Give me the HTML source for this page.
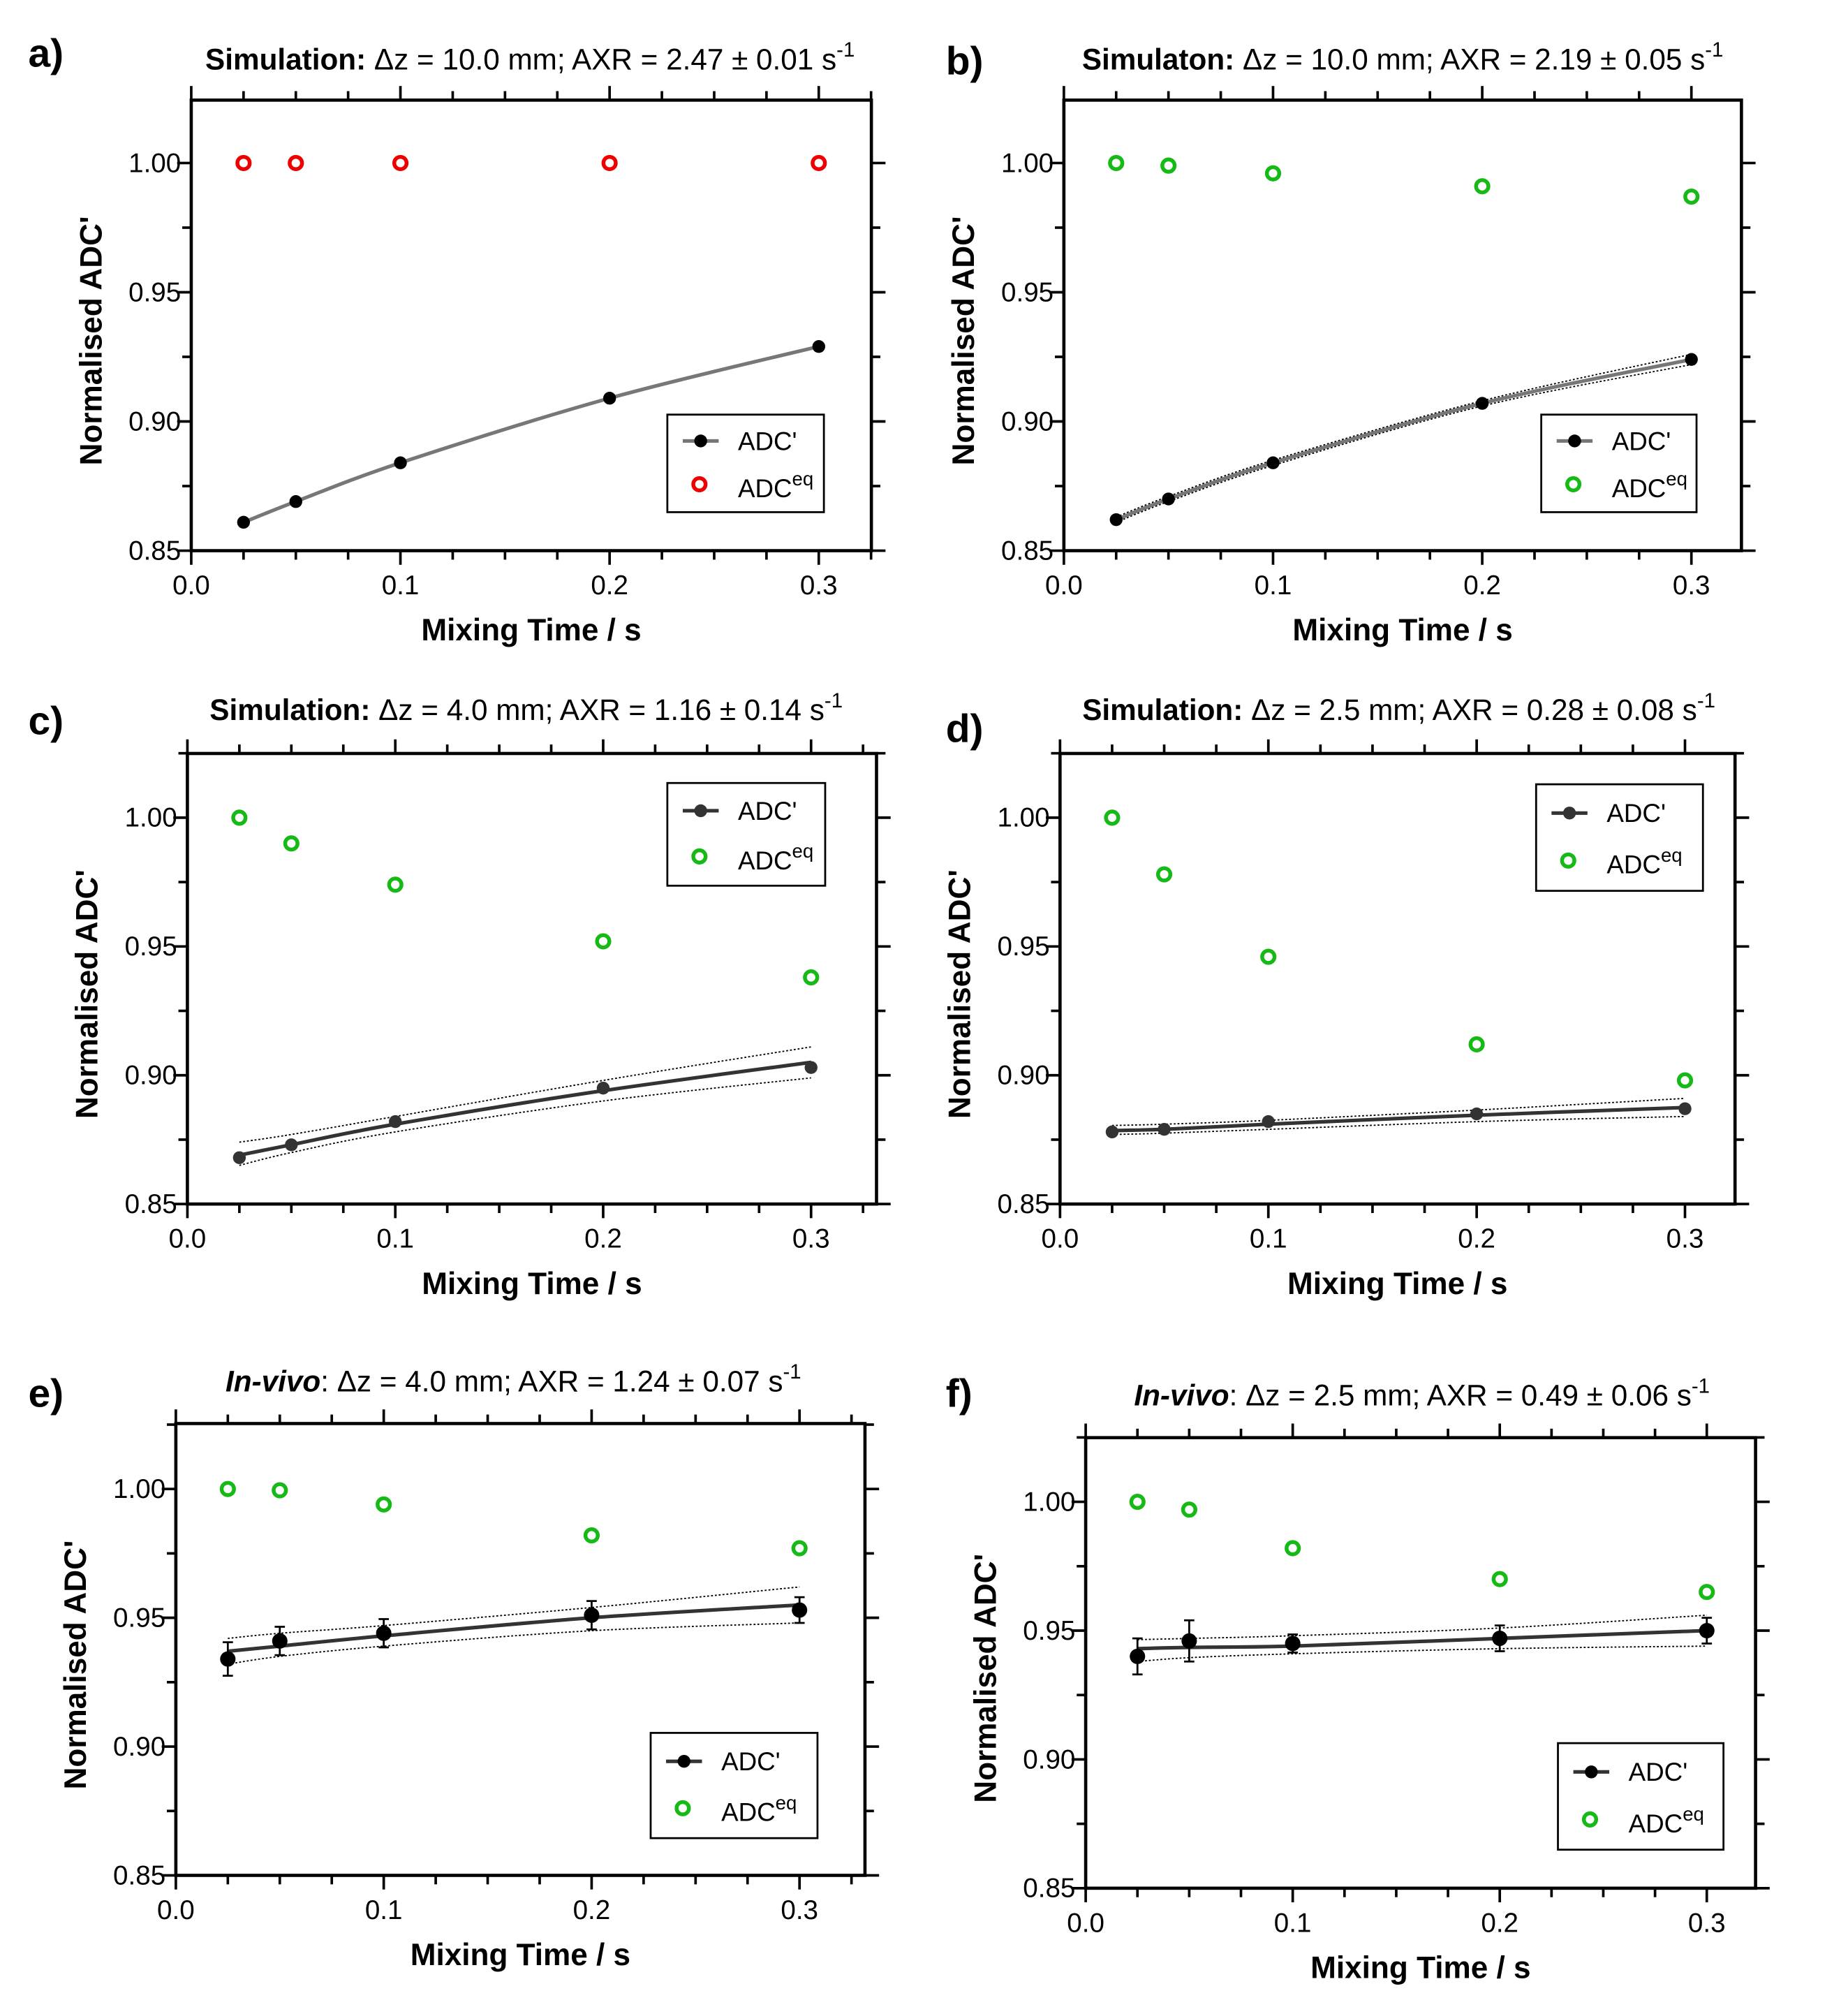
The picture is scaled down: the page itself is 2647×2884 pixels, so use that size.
<!DOCTYPE html>
<html><head><meta charset="utf-8">
<style>
html,body{margin:0;padding:0;background:#fff;}
svg{display:block;}
text{font-family:"Liberation Sans",Arial,sans-serif;}
</style></head>
<body>
<svg id="fig" xmlns="http://www.w3.org/2000/svg" width="2647" height="2884" viewBox="0 0 1440 1569">
<rect width="1440" height="1569" fill="#fff"/>
</svg>
<script>
const mixTimes = [0.025, 0.05, 0.1, 0.2, 0.3];
const xTickLabels = ["0.0", "0.1", "0.2", "0.3"];
const yTickLabels = ["0.85", "0.90", "0.95", "1.00"];

const adcA = [0.861, 0.869, 0.884, 0.909, 0.929];
const eqA = [1.0, 1.0, 1.0, 1.0, 1.0];
const fitA = [0.861, 0.869, 0.884, 0.909, 0.929];

const adcB = [0.862, 0.870, 0.884, 0.907, 0.924];
const eqB = [1.0, 0.999, 0.996, 0.991, 0.987];
const fitB = [0.862, 0.870, 0.884, 0.907, 0.924];
const fitBLo = [0.861, 0.869, 0.883, 0.906, 0.922];
const fitBHi = [0.863, 0.871, 0.885, 0.908, 0.926];

const adcC = [0.868, 0.873, 0.882, 0.895, 0.903];
const eqC = [1.0, 0.990, 0.974, 0.952, 0.938];
const fitC = [0.869, 0.873, 0.881, 0.894, 0.905];
const fitCLo = [0.865, 0.870, 0.878, 0.890, 0.899];
const fitCHi = [0.874, 0.877, 0.884, 0.898, 0.911];

const adcD = [0.878, 0.879, 0.882, 0.885, 0.887];
const eqD = [1.0, 0.978, 0.946, 0.912, 0.898];
const fitD = [0.8785, 0.879, 0.881, 0.8845, 0.8875];
const fitDLo = [0.877, 0.8775, 0.879, 0.882, 0.884];
const fitDHi = [0.8805, 0.881, 0.8825, 0.8865, 0.891];

const adcE = [0.934, 0.941, 0.944, 0.951, 0.953];
const errE = [0.0065, 0.0055, 0.0055, 0.0055, 0.005];
const eqE = [1.0, 0.9995, 0.994, 0.982, 0.977];
const fitE = [0.937, 0.939, 0.943, 0.950, 0.955];
const fitELo = [0.932, 0.935, 0.939, 0.945, 0.948];
const fitEHi = [0.942, 0.944, 0.947, 0.954, 0.962];

const adcF = [0.940, 0.946, 0.945, 0.947, 0.950];
const errF = [0.007, 0.008, 0.0035, 0.005, 0.005];
const eqF = [1.0, 0.997, 0.982, 0.970, 0.965];
const fitF = [0.943, 0.9435, 0.944, 0.947, 0.950];
const fitFLo = [0.938, 0.9395, 0.941, 0.943, 0.944];
const fitFHi = [0.9465, 0.947, 0.948, 0.951, 0.956];

const NS = "http://www.w3.org/2000/svg";
const svg = document.getElementById('fig');
function mk(tag, attrs, parent) {
  const e = document.createElementNS(NS, tag);
  for (const k in attrs) e.setAttribute(k, attrs[k]);
  (parent || svg).appendChild(e);
  return e;
}
function smoothPath(P) {
  let d = 'M' + P[0][0].toFixed(1) + ',' + P[0][1].toFixed(1);
  for (let i = 0; i < P.length - 1; i++) {
    const p0 = P[Math.max(0, i - 1)], p1 = P[i], p2 = P[i + 1], p3 = P[Math.min(P.length - 1, i + 2)];
    const c1x = p1[0] + (p2[0] - p0[0]) / 6, c1y = p1[1] + (p2[1] - p0[1]) / 6;
    const c2x = p2[0] - (p3[0] - p1[0]) / 6, c2y = p2[1] - (p3[1] - p1[1]) / 6;
    d += ` C${c1x.toFixed(1)},${c1y.toFixed(1)} ${c2x.toFixed(1)},${c2y.toFixed(1)} ${p2[0].toFixed(1)},${p2[1].toFixed(1)}`;
  }
  return d;
}

function panel(p) {
  const g = mk('g', {});
  
  
  const L = p.L, R = p.R, T = p.T, B = p.B;
  const x0 = L, xs = (p.x03 - L) / 0.3;
  const X = v => x0 + v * xs;
  const ys = (B - p.y1) / 0.15;
  const Y = v => B - (v - 0.85) * ys;

  const lab = mk('text', {x: p.labX, y: p.labY, 'font-size': 31, 'font-weight': 'bold'}, g);
  lab.textContent = p.id + ')';
  
  

  const t = mk('text', {x: p.titleX, y: p.titleY, 'font-size': 23, 'text-anchor': 'middle'}, g);
  
  
  const t1 = mk('tspan', {'font-weight': 'bold'}, t);
  if (p.invivo) t1.setAttribute('font-style', 'italic');
  t1.textContent = p.t1;
  const t2 = mk('tspan', {}, t); t2.textContent = p.t2;
  const t3 = mk('tspan', {dy: -10, 'font-size': 16}, t); t3.textContent = '-1';

  const box = mk('rect', {x: L, y: T, width: R - L, height: B - T, fill: 'none', stroke: '#000', 'stroke-width': 2.5}, g);
  
  

  for (let i = 0; i <= 13; i++) {
    const v = i * 0.025, xx = X(v);
    if (xx > R + 1) break;
    const major = (i % 4 === 0);
    const len = major ? 11 : 7;
    mk('line', {x1: xx, y1: B, x2: xx, y2: B + len, stroke: '#000', 'stroke-width': 2}, g);
    mk('line', {x1: xx, y1: T, x2: xx, y2: T - len, stroke: '#000', 'stroke-width': 2}, g);
  }
  xTickLabels.forEach((s, i) => {
    const tx = mk('text', {x: X(i * 0.1), y: B + 34, 'font-size': 21, 'text-anchor': 'middle'}, g);
    tx.textContent = s;
    
    
  });
  for (let i = 0; i <= 7; i++) {
    const v = 0.85 + i * 0.025, yy = Y(v);
    if (yy < T - 1) break;
    const major = (i % 2 === 0);
    const len = major ? 11 : 7;
    mk('line', {x1: L, y1: yy, x2: L - len, y2: yy, stroke: '#000', 'stroke-width': 2}, g);
    mk('line', {x1: R, y1: yy, x2: R + len, y2: yy, stroke: '#000', 'stroke-width': 2}, g);
  }
  yTickLabels.forEach((s, i) => {
    const ty = mk('text', {x: L - 8, y: Y(0.85 + i * 0.05) + 7, 'font-size': 21, 'text-anchor': 'end'}, g);
    ty.textContent = s;
    
    
  });
  const xt = mk('text', {x: (L + R) / 2, y: B + 70, 'font-size': 24, 'font-weight': 'bold', 'text-anchor': 'middle'}, g);
  xt.textContent = 'Mixing Time / s';
  
  
  const ycx = L - 70, ycy = (T + B) / 2 + 12;
  const yt = mk('text', {x: ycx, y: ycy, 'font-size': 24, 'font-weight': 'bold', 'text-anchor': 'middle', transform: `rotate(-90 ${ycx} ${ycy})`}, g);
  yt.textContent = "Normalised ADC'";
  
  

  const pts = arr => mixTimes.map((v, i) => [X(v), Y(arr[i])]);
  if (p.lo) {
    [p.lo, p.hi].forEach(arr => {
      const b = mk('path', {d: smoothPath(pts(arr)), fill: 'none', stroke: '#000', 'stroke-width': 1, 'stroke-dasharray': '1.5,1.5'}, g);
      
      
    });
  }
  const fl = mk('path', {d: smoothPath(pts(p.fit)), fill: 'none', stroke: p.lineColor, 'stroke-width': 2.8}, g);
  
  
  if (p.err) {
    mixTimes.forEach((v, i) => {
      const xx = X(v), y1 = Y(p.adc[i] + p.err[i]), y2 = Y(p.adc[i] - p.err[i]);
      const eb = mk('path', {d: `M${xx},${y1}V${y2}M${xx - 4},${y1}H${xx + 4}M${xx - 4},${y2}H${xx + 4}`, stroke: '#000', 'stroke-width': 1.5, fill: 'none'}, g);
      
      
    });
  }
  mixTimes.forEach((v, i) => {
    const c = mk('circle', {cx: X(v), cy: Y(p.adc[i]), r: p.err ? 6 : 5, fill: p.dotColor}, g);
    
    
    const o = mk('circle', {cx: X(v), cy: Y(p.eq[i]), r: 4.8, fill: 'none', stroke: p.eqColor, 'stroke-width': 3}, g);
    
    
  });
  const lg = mk('g', {}, g);
  
  
  const [lx, ly, lw, lh] = p.leg;
  mk('rect', {x: lx, y: ly, width: lw, height: lh, fill: '#fff', stroke: '#000', 'stroke-width': 1.5}, lg);
  const r1 = ly + lh * 0.27, r2 = ly + lh * 0.74;
  mk('line', {x1: lx + 12, y1: r1, x2: lx + 40, y2: r1, stroke: p.lineColor, 'stroke-width': 2.8}, lg);
  mk('circle', {cx: lx + 26, cy: r1, r: 5, fill: p.dotColor}, lg);
  mk('circle', {cx: lx + 25, cy: r2 - 2, r: 4.8, fill: 'none', stroke: p.eqColor, 'stroke-width': 3}, lg);
  const e1 = mk('text', {x: lx + 55, y: r1 + 7, 'font-size': 20}, lg);
  e1.textContent = "ADC'";
  
  
  const e2 = mk('text', {x: lx + 55, y: r2 + 8, 'font-size': 20}, lg);
  
  
  const s1 = mk('tspan', {}, e2); s1.textContent = 'ADC';
  const s2 = mk('tspan', {dy: -9, 'font-size': 15}, e2); s2.textContent = 'eq';
}

const red = '#ee0000', green = '#16b916';
panel({id:'a', L:149, R:679, T:78, B:429, x03:638, y1:127, labX:22, labY:52, titleX:413, titleY:54,
  t1:'Simulation:', t2:' \u0394z = 10.0 mm; AXR = 2.47 \u00b1 0.01 s',
  adc:adcA, eq:eqA, fit:fitA, lineColor:'#777', dotColor:'#000', eqColor:red, leg:[520,323,122,76]});
panel({id:'b', L:829, R:1357, T:78, B:429, x03:1318, y1:127, labX:737, labY:58, titleX:1093, titleY:54,
  t1:'Simulaton:', t2:' \u0394z = 10.0 mm; AXR = 2.19 \u00b1 0.05 s',
  adc:adcB, eq:eqB, fit:fitB, lo:fitBLo, hi:fitBHi, lineColor:'#777', dotColor:'#000', eqColor:green, leg:[1201,323,121,76]});
panel({id:'c', L:146, R:683, T:587, B:938, x03:632, y1:637, labX:22, labY:572, titleX:410, titleY:561,
  t1:'Simulation:', t2:' \u0394z = 4.0 mm; AXR = 1.16 \u00b1 0.14 s',
  adc:adcC, eq:eqC, fit:fitC, lo:fitCLo, hi:fitCHi, lineColor:'#333', dotColor:'#333', eqColor:green, leg:[520,610,123,80]});
panel({id:'d', L:826, R:1352, T:587, B:938, x03:1313, y1:637, labX:737, labY:578, titleX:1090, titleY:561,
  t1:'Simulation:', t2:' \u0394z = 2.5 mm; AXR = 0.28 \u00b1 0.08 s',
  adc:adcD, eq:eqD, fit:fitD, lo:fitDLo, hi:fitDHi, lineColor:'#333', dotColor:'#333', eqColor:green, leg:[1197,611,130,83]});
panel({id:'e', L:137, R:674, T:1109, B:1461, x03:623, y1:1160, labX:22, labY:1096, titleX:400, titleY:1084,
  t1:'In-vivo', t2:': \u0394z = 4.0 mm; AXR = 1.24 \u00b1 0.07 s', invivo:true,
  adc:adcE, eq:eqE, fit:fitE, lo:fitELo, hi:fitEHi, err:errE, lineColor:'#333', dotColor:'#000', eqColor:green, leg:[507,1350,130,82]});
panel({id:'f', L:846, R:1368, T:1120, B:1471, x03:1330, y1:1170, labX:737, labY:1096, titleX:1108, titleY:1095,
  t1:'In-vivo', t2:': \u0394z = 2.5 mm; AXR = 0.49 \u00b1 0.06 s', invivo:true,
  adc:adcF, eq:eqF, fit:fitF, lo:fitFLo, hi:fitFHi, err:errF, lineColor:'#333', dotColor:'#000', eqColor:green, leg:[1214,1358,129,83]});
</script>
</body></html>
